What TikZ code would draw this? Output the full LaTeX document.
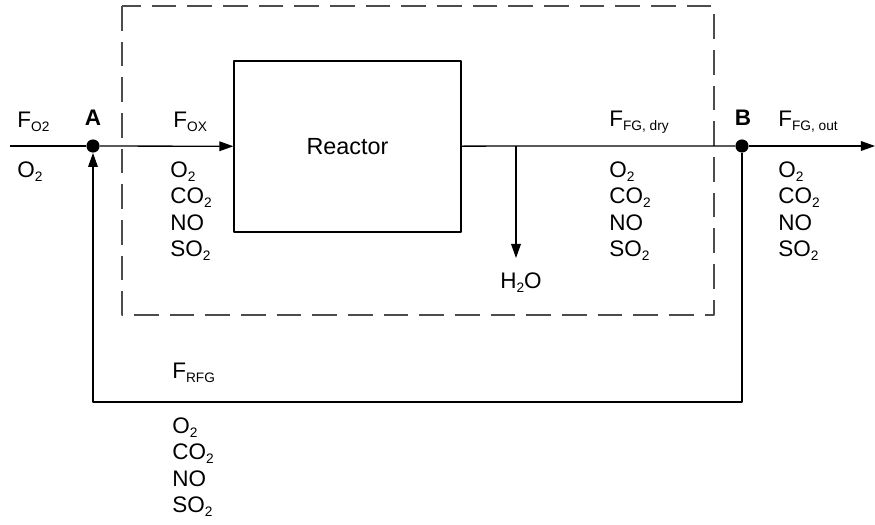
\documentclass[tikz,border=0pt]{standalone}
\usepackage{fontspec}
\setmainfont{Liberation Sans}
\usetikzlibrary{arrows.meta}

\newcommand\chemsub[1]{\raisebox{-2.3pt}{\fontsize{7.8}{8}\selectfont #1}}

\begin{document}
\begin{tikzpicture}[
  x = 0.02cm,
  y = -0.02cm,
  line join=round,
  pipe/.style     = {line width=0.75pt},
  flow/.style     = {line width=0.75pt, -{Triangle[length=8pt, width=5.5pt]}},
  junction/.style = {circle, fill, inner sep=0, minimum size=7.5pt},
  lbl/.style      = {anchor=base west, inner sep=0, font=\fontsize{12.8}{15}\selectfont},
  tag/.style      = {anchor=base, inner sep=0, font=\fontsize{12.8}{15}\selectfont\bfseries}
]
  \useasboundingbox (0,0) rectangle (875,524);

  % system boundary
  \draw[pipe, black!70, dash pattern=on 14pt off 6.3pt] (122,6) rectangle (714,315);

  % units and junctions
  \node[draw, line width=0.75pt, minimum width=4.54cm, minimum height=3.42cm,
        font=\fontsize{13.3}{16}\selectfont] (reactor) at (347.5,146.5) {Reactor};
  \node[junction] (A) at (93,146) {};
  \node[junction] (B) at (742,146) {};
  \coordinate (in)    at (10,146);
  \coordinate (out)   at (875,146);
  \coordinate (split) at (516,146);
  \coordinate (drain) at (516,258);
  \coordinate (Bdown) at (742,402);
  \coordinate (Adown) at (93,402);

  % streams
  \draw[pipe] (in) -- (A);
  \draw[flow] (A) -- (reactor);
  \draw[pipe] (reactor) -- (split) -- (B);
  \draw[flow] (B) -- (out);
  \draw[flow] (split) -- (drain);
  \draw[flow] (B) -- (Bdown) -- (Adown) -- (A);

  % labels
  \node[lbl] (Fo2)  at (17,127)  {F\chemsub{O2}};
  \node[lbl] (o2)   at (17,177)  {O\chemsub{2}};
  \node[tag] (Atag) at (93,125)  {A};
  \node[lbl] (Fox)  at (173,127) {F\chemsub{OX}};
  \node[lbl] (Fdry) at (609,126) {F\chemsub{FG, dry}};
  \node[tag] (Btag) at (743,125) {B};
  \node[lbl] (Fout) at (778,126) {F\chemsub{FG, out}};
  \node[lbl] (Frfg) at (172,378) {F\chemsub{RFG}};
  \node[anchor=base, inner sep=0, font=\fontsize{12.8}{15}\selectfont] (h2o) at (521,288) {H\chemsub{2}O};

  % gas lists
  \foreach \stream/\gx/\gy in {ox/170/177, dry/609/177, out/778/177, rfg/172/433}
    \foreach \gas [count=\i from 0] in {O\chemsub{2}, CO\chemsub{2}, NO, SO\chemsub{2}}
      \node[lbl] (\stream-\i) at (\gx,\gy+\i*26.5) {\gas};
\end{tikzpicture}
\end{document}
